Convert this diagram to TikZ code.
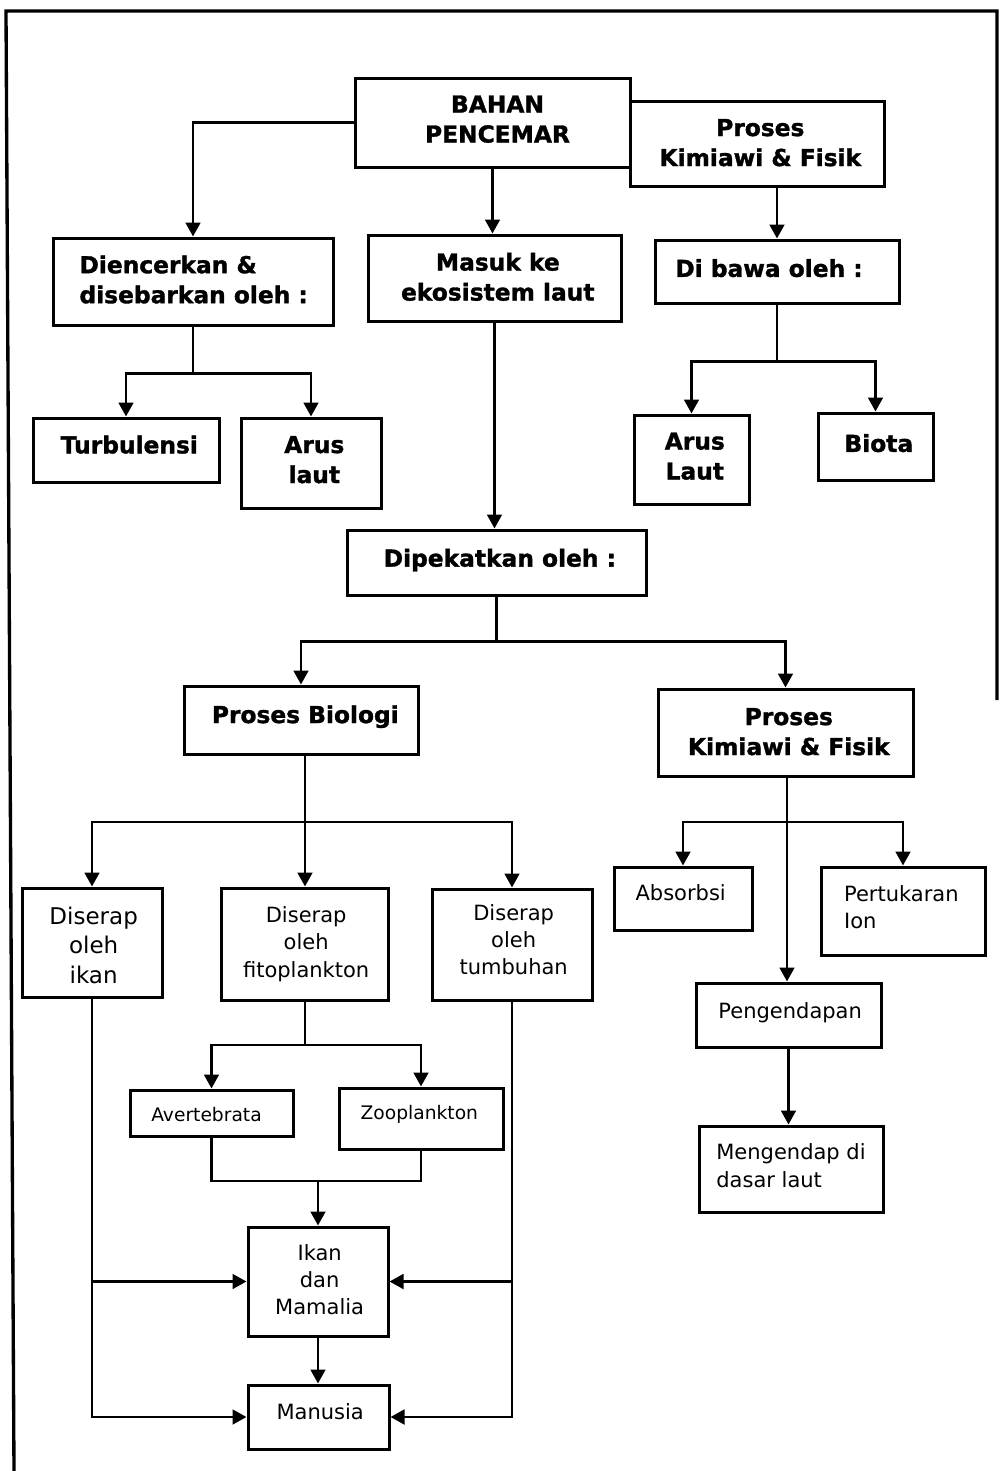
\documentclass[tikz,border=0pt]{standalone}
\usepackage{fontspec}
\setmainfont{DejaVu Sans}
\newfontface\heavyface{DejaVu Sans Bold}[FakeBold=1.4]
\usetikzlibrary{arrows.meta,fit,calc}

% a framed box spanning two corners, with its text placed as a separate node
% #1: extra options for the text, #2: name, #3: corners, #4: text style, #5: text
\newcommand\flowbox[5][]{%
  \node[frm, fit={#3}] (#2) {};
  \node[#4, #1] (#2-t) at (#2.center) {#5};}

\begin{document}
\begin{tikzpicture}[x=0.3pt,y=-0.3pt,
  frm/.style={draw, line width=0.9pt, inner sep=0pt},
  tb/.style={font=\fontsize{7}{9}\selectfont\heavyface, align=center, inner sep=0pt, xshift=1pt, yshift=1pt},
  tr/.style={font=\fontsize{6.3}{8.2}\selectfont, align=center, inner sep=0pt, xshift=0.5pt, yshift=1pt},
  ts/.style={tr, font=\fontsize{5.6}{7.5}\selectfont},
  ln/.style={line width=0.85pt},
  arr/.style={ln, -{Triangle[length=4.2pt,width=4.4pt]}},
  frameline/.style={line width=1pt}]
\useasboundingbox (0,0) rectangle (1000,1471);

% page frame
\draw[frameline] (14,1471) -- (6,11) -- (997,11) -- (997,700);

% upper level (bold)
\flowbox[xshift=0.5pt]{bahan}{(355,78)(630,167)}{tb}{BAHAN\\PENCEMAR}
\flowbox[yshift=-0.75pt]{kf1}{(630,101)(884,186)}{tb}{Proses\\Kimiawi \& Fisik}
\flowbox[align=left, xshift=-0.8pt, yshift=-0.4pt]{dienc}{(53,238)(333,325)}{tb}{Diencerkan \&\\disebarkan oleh :}
\flowbox[yshift=-0.65pt]{masuk}{(368,235)(621,321)}{tb}{Masuk ke\\ekosistem laut}
\flowbox[xshift=-3.4pt]{dibawa}{(655,240)(899,303)}{tb}{Di bawa oleh :}
\flowbox[yshift=0.6pt]{turb}{(33,418)(219,482)}{tb}{Turbulensi}
\flowbox{arusl}{(241,418)(381,508)}{tb}{Arus\\laut}
\flowbox{arusr}{(634,415)(749,504)}{tb}{Arus\\Laut}
\flowbox{biota}{(818,413)(933,480)}{tb}{Biota}
\flowbox[yshift=-0.3pt]{dipek}{(347,530)(646,595)}{tb}{Dipekatkan oleh :}
\flowbox[xshift=0.3pt]{pbio}{(184,686)(418,754)}{tb}{Proses Biologi}
\flowbox[yshift=-0.75pt]{kf2}{(658,689)(913,776)}{tb}{Proses\\Kimiawi \& Fisik}

% lower level (regular)
\flowbox[font=\fontsize{6.9}{8.9}\selectfont, yshift=-1.85pt]{ikan1}{(22,888)(162,997)}{tr}{Diserap\\oleh\\ikan}
\flowbox[yshift=-1pt]{fito}{(221,888)(388,1000)}{tr}{Diserap\\oleh\\fitoplankton}
\flowbox[yshift=0.5pt]{tumb}{(432,889)(592,1000)}{tr}{Diserap\\oleh\\tumbuhan}
\flowbox[xshift=-1.2pt, yshift=0.8pt]{absorb}{(614,867)(752,930)}{tr}{Absorbsi}
\flowbox[align=left, xshift=-1pt, yshift=0.2pt]{pertuk}{(821,867)(985,955)}{tr}{Pertukaran\\Ion}
\flowbox[yshift=-0.4pt]{pengend}{(696,983)(881,1047)}{tr}{Pengendapan}
\flowbox[align=left, xshift=-0.5pt]{mengend}{(699,1126)(883,1212)}{tr}{Mengendap di\\dasar laut}
\flowbox[xshift=-2pt, yshift=-1.4pt]{avert}{(130,1090)(293,1136)}{ts}{Avertebrata}
\flowbox[xshift=-1pt, yshift=0.2pt]{zoo}{(339,1088)(503,1149)}{ts}{Zooplankton}
\flowbox[yshift=-0.4pt]{ikmam}{(248,1227)(388,1336)}{tr}{Ikan\\dan\\Mamalia}
\flowbox[yshift=0.5pt]{manusia}{(248,1385)(389,1449)}{tr}{Manusia}

% connectors, top part
\draw[arr] (bahan.west) -| (dienc.north);
\draw[arr] (bahan.south) -- (bahan.south |- masuk.north);
\draw[arr] (dibawa.north |- kf1.south) -- (dibawa.north);
\draw[ln] (dienc.south) -- ++(0,47) coordinate (jd);
\draw[arr] (jd) -| (turb.north);
\draw[arr] (jd) -| (arusl.north);
\draw[ln] (dibawa.south) -- ++(0,57) coordinate (jw);
\draw[arr] (jw) -| (arusr.north);
\draw[arr] (jw) -| (biota.north);
\draw[arr] (masuk.south) -- (masuk.south |- dipek.north);
\draw[ln] (dipek.south) -- ++(0,45) coordinate (jp);
\draw[arr] (jp) -| (pbio.north);
\draw[arr] (jp) -| (kf2.north);

% biological branch
\coordinate (jb) at (305,822);
\draw[arr] (jb |- pbio.south) -- (jb |- fito.north);
\draw[arr] (jb) -| (ikan1.north);
\draw[arr] (jb) -| (tumb.north);
\coordinate (jf) at (305,1045);
\draw[ln] (jb |- fito.south) -- (jf);
\draw[arr] (jf) -| (avert.north);
\draw[arr] (jf) -| (zoo.north);
\coordinate (jz) at (318,1181);
\draw[ln] (avert.south) |- (jz);
\draw[ln] (zoo.south) |- (jz);
\draw[arr] (jz) -- (jz |- ikmam.north);
\draw[arr] (ikmam.south) -- (ikmam.south |- manusia.north);
\draw[arr] (ikan1.south) |- (manusia.west);
\draw[arr] (ikan1.south |- ikmam.west) -- (ikmam.west);
\draw[arr] (tumb.south) |- (manusia.east);
\draw[arr] (tumb.south |- ikmam.east) -- (ikmam.east);

% chemical and physical branch
\coordinate (jk) at (787,822);
\draw[arr] (jk |- kf2.south) -- (jk |- pengend.north);
\draw[arr] (jk) -| (absorb.north);
\draw[arr] (jk) -| (pertuk.north);
\draw[arr] (pengend.south) -- (pengend.south |- mengend.north);
\end{tikzpicture}
\end{document}
